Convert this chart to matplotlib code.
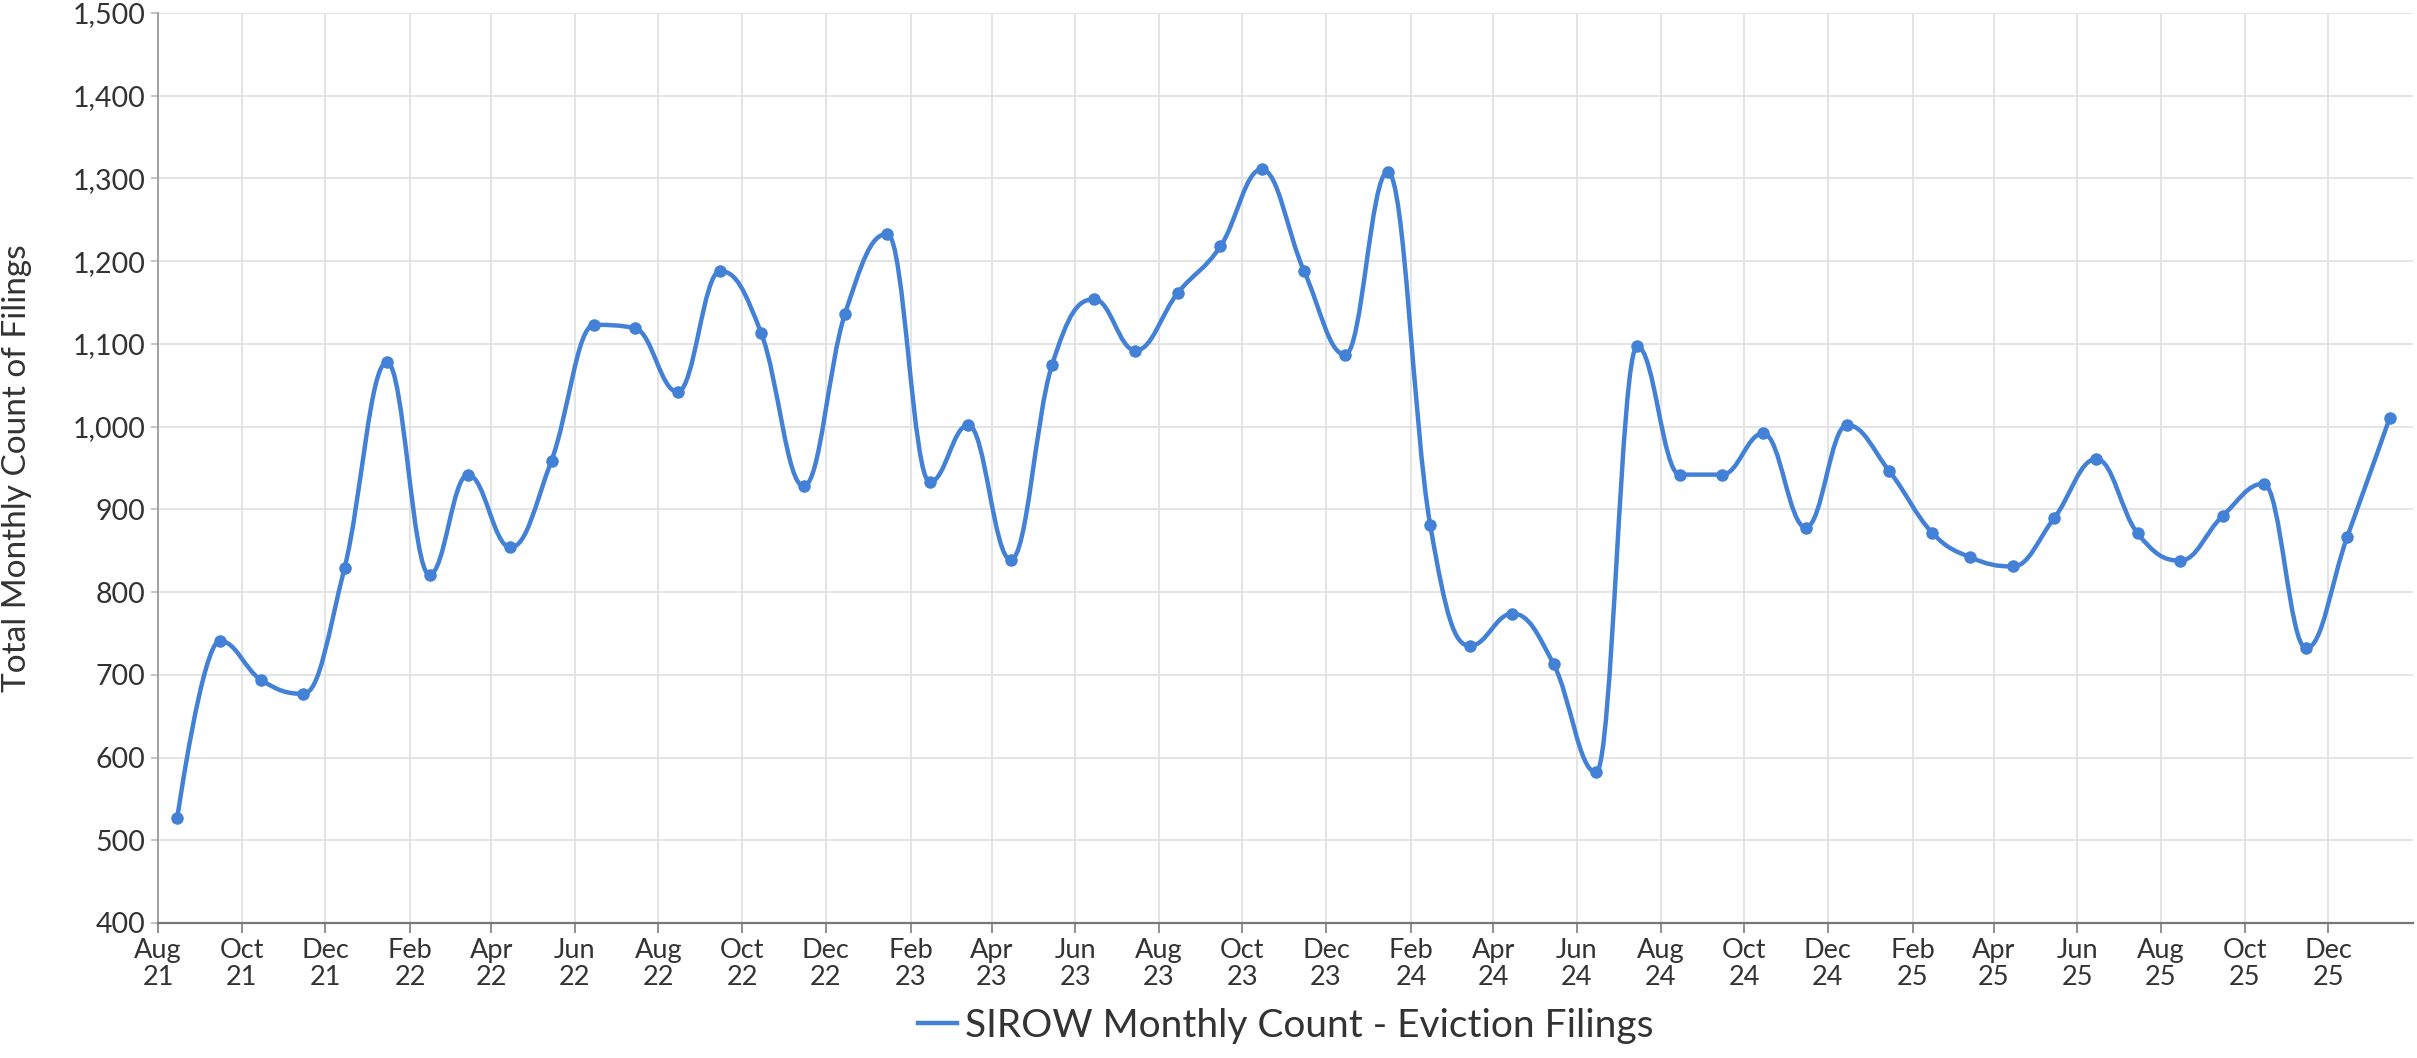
import matplotlib
matplotlib.use("Agg")
import matplotlib.pyplot as plt
import matplotlib.dates as mdates
from matplotlib.path import Path
from matplotlib.patches import PathPatch
from matplotlib.lines import Line2D
from matplotlib.ticker import FuncFormatter
import pandas as pd

plt.rcParams['font.family'] = ['Lato', 'DejaVu Sans']

# monthly counts, Aug 2021 .. Jan 2026 (plotted mid-month)
first_month = "2021-08-01"
n_months = 54
filings = [527, 741, 694, 677, 829, 1078, 821, 942, 854, 959,
           1123, 1119, 1042, 1188, 1113, 928, 1136, 1233, 933, 1002,
           839, 1074, 1154, 1092, 1162, 1218, 1311, 1188, 1087, 1308,
           881, 735, 774, 713, 582, 1097, 942, 942, 992, 878,
           1002, 946, 872, 842, 831, 889, 961, 871, 838, 892,
           931, 732, 867, 1011]
series_name = "SIROW Monthly Count - Eviction Filings"
y_label = "Total Monthly Count of Filings"

months = pd.date_range(first_month, periods=n_months, freq="MS") + pd.Timedelta(days=14)
xs = mdates.date2num(months.to_pydatetime())
ys = filings

color = "#4381d6"
text_color = "#333333"


def spline_path(xs, ys, smoothing=1.5):
    # highcharts-style spline: bezier control points around each point
    n = len(xs)
    left = [None] * n
    right = [None] * n
    denom = smoothing + 1
    for i in range(1, n - 1):
        px, py = xs[i], ys[i]
        lx, ly = xs[i - 1], ys[i - 1]
        nx, ny = xs[i + 1], ys[i + 1]
        lcx = (smoothing * px + lx) / denom
        lcy = (smoothing * py + ly) / denom
        rcx = (smoothing * px + nx) / denom
        rcy = (smoothing * py + ny) / denom
        if rcx != lcx:
            corr = (rcy - lcy) * (rcx - px) / (rcx - lcx) + py - rcy
            lcy += corr
            rcy += corr
            if lcy > ly and lcy > py:
                lcy = max(ly, py)
                rcy = 2 * py - lcy
            elif lcy < ly and lcy < py:
                lcy = min(ly, py)
                rcy = 2 * py - lcy
            if rcy > ny and rcy > py:
                rcy = max(ny, py)
                lcy = 2 * py - rcy
            elif rcy < ny and rcy < py:
                rcy = min(ny, py)
                lcy = 2 * py - rcy
        left[i] = (lcx, lcy)
        right[i] = (rcx, rcy)
    verts = [(xs[0], ys[0])]
    codes = [Path.MOVETO]
    for i in range(1, n):
        c1 = right[i - 1] or (xs[i - 1], ys[i - 1])
        c2 = left[i] or (xs[i], ys[i])
        verts += [c1, c2, (xs[i], ys[i])]
        codes += [Path.CURVE4] * 3
    return Path(verts, codes)


fig = plt.figure(figsize=(24.17, 10.58), dpi=100)
ax = fig.add_axes([0.0654, 0.1276, 0.9329, 0.8601])

ax.add_patch(PathPatch(spline_path(xs, ys), fill=False, edgecolor=color,
                       linewidth=3.2, capstyle="round", joinstyle="round", zorder=3))
ax.plot(xs, ys, "o", color=color, markersize=8, zorder=4)

ax.set_xlim(mdates.date2num(pd.Timestamp("2021-08-01")),
            mdates.date2num(pd.Timestamp("2026-01-31 20:00")))
ax.set_ylim(400, 1500)
ax.set_yticks(range(400, 1501, 100))
ax.yaxis.set_major_formatter(FuncFormatter(lambda v, p: f"{int(v):,}"))

ax.xaxis.set_major_locator(mdates.MonthLocator(bymonth=[2, 4, 6, 8, 10, 12]))
ax.xaxis.set_major_formatter(mdates.DateFormatter("%b\n%y"))

ax.grid(True, color="#e2e2e2", linewidth=1.3, zorder=0)
ax.set_axisbelow(True)
for s in ["top", "right"]:
    ax.spines[s].set_visible(False)
ax.spines["left"].set_color("#9a9a9a")
ax.spines["left"].set_linewidth(1.3)
ax.spines["bottom"].set_color("#777777")
ax.spines["bottom"].set_linewidth(1.6)

ax.tick_params(axis="x", length=7, width=1.3, color="#888888", labelsize=19.5,
               labelcolor=text_color, pad=4)
ax.tick_params(axis="y", length=5, width=1.2, color="#bbbbbb", labelsize=20.5,
               labelcolor=text_color, pad=4)
for lbl in ax.get_xticklabels():
    lbl.set_linespacing(1.1)

ax.set_ylabel(y_label, fontsize=24, color=text_color)
ax.yaxis.set_label_coords(-0.056, 0.5)

handle = Line2D([], [], color=color, linewidth=3.2)
ax.legend([handle], [series_name], loc="center", bbox_to_anchor=(0.5, -0.113),
          frameon=False, fontsize=28, handlelength=1.0, handletextpad=0.2,
          labelcolor=text_color, borderpad=0)

fig.savefig("out.png", dpi=100)
